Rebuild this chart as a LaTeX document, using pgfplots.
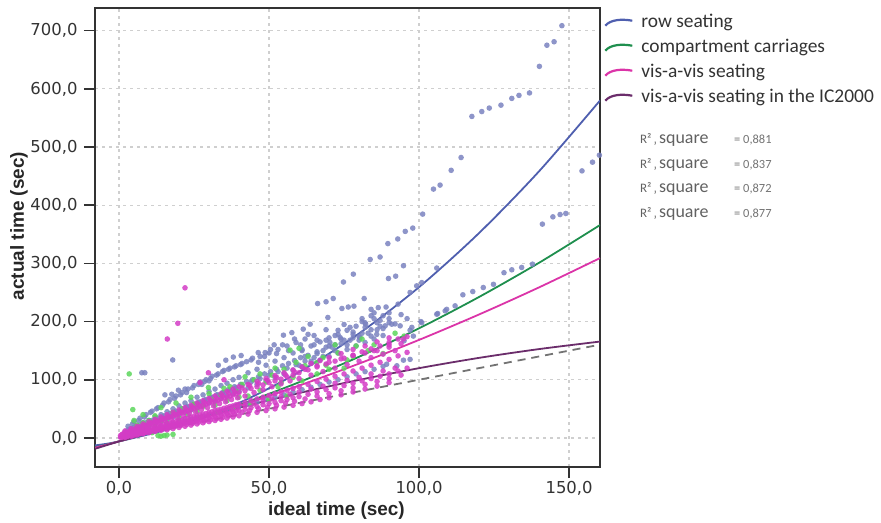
\documentclass[border=0pt]{standalone}
\usepackage{fontspec}
\setmainfont{Carlito}
\newfontfamily\dejavu{DejaVu Sans}
\newfontfamily\libsans{Liberation Sans}
\usepackage{pgfplots}
\pgfplotsset{compat=1.18}
\definecolor{bluept}{HTML}{7A82C0}
\definecolor{blueln}{HTML}{4F5FAF}
\definecolor{greenpt}{HTML}{5CD65C}
\definecolor{greenln}{HTML}{1F8F4E}
\definecolor{pinkpt}{HTML}{D43CC6}
\definecolor{pinkln}{HTML}{DB34A8}
\definecolor{purpln}{HTML}{6B2D6B}
\definecolor{gridc}{HTML}{CFCFCF}
\definecolor{txt}{HTML}{333333}
\begin{document}
\begin{tikzpicture}
\path[use as bounding box] (0,0) rectangle (881bp,523bp);
\begin{axis}[
  at={(95bp,56bp)}, anchor=south west,
  scale only axis, width=505bp, height=459bp,
  xmin=-8, xmax=160.3, ymin=-50, ymax=739,
  xtick={0,50,100,150}, ytick={0,100,200,300,400,500,600,700},
  xtick pos=bottom, ytick pos=left, tick align=outside,
  major tick length=11bp,
  tick style={line width=1.6bp, color=black!80},
  axis line style={line width=1.8bp, color=black!80},
  grid=major,
  major grid style={dash pattern=on 3bp off 4bp, line width=1.2bp, color=gridc},
  /pgf/number format/fixed, /pgf/number format/fixed zerofill,
  /pgf/number format/precision=1, /pgf/number format/use comma,
  /pgf/number format/assume math mode=true,
  ticklabel style={font=\dejavu\fontsize{16.5}{16.5}\selectfont, text=txt},
  yticklabel style={xshift=-3bp},
  xlabel={ideal time (sec)}, ylabel={actual time (sec)},
  label style={font=\libsans\bfseries\fontsize{19}{19}\selectfont, text=black!85},
  xlabel style={at={(axis description cs:0.478,-0.1046)}, anchor=base},
  ylabel style={at={(axis description cs:-0.1505,0.525)}, anchor=center},
  legend style={at={(axis description cs:1,1)}, anchor=north west, xshift=4bp, yshift=-5bp,
    draw=none, fill=none, inner sep=0pt, row sep=6bp, column sep=8bp,
    font=\fontsize{19.5}{19.5}\selectfont, text=txt,
    nodes={inner sep=0pt, text height=14bp, text depth=5bp}},
  legend cell align=left,
  legend image code/.code={\draw[#1, line width=2.2bp] (0bp,-3bp) .. controls (5bp,3bp) and (16bp,4bp) .. (27bp,2bp);},
  scatterstyle/.style={only marks, mark=*, mark size=2.8bp, color=#1, mark options={fill opacity=0.85, draw opacity=0}, forget plot},
]
% row seating points
\addplot[scatterstyle=bluept] coordinates {
(2,3) (2,5) (2,10) (4,6) (4,9) (4,16) (6,8) (6,12) (6,20) (8,11) (8,16) (8,26) (10,13) (10,20) (10,30)
(12,16) (12,24) (12,36) (14,19) (14,28) (14,40) (16,21) (16,32) (16,45) (18,24) (18,36) (18,50)
(20,27) (20,40) (20,55) (22,29) (22,44) (22,60) (24,32) (24,48) (24,64) (26,35) (26,52) (26,70)
(28,37) (28,56) (28,74) (30,40) (30,60) (30,80) (32,43) (32,64) (32,84) (34,45) (34,68) (34,90)
(36,48) (36,72) (36,94) (38,51) (38,76) (38,100) (40,54) (40,80) (40,104) (43,58) (43,86) (43,112)
(46,62) (46,92) (46,118) (49,66) (49,98) (49,125) (52,70) (52,104) (52,132) (55,74) (55,110) (55,138)
(58,79) (58,116) (58,146) (61,83) (61,122) (61,152) (64,87) (64,128) (64,158) (67,92) (67,134) (67,165)
(70,96) (70,140) (70,172) (73,100) (73,146) (73,178) (76,105) (76,152) (76,185) (79,110) (79,158) (79,192)
(82,114) (82,164) (82,198) (85,118) (85,170) (85,205) (88,123) (88,176) (88,210)
(3,20) (5,28) (7,34) (9,40) (11,46) (13,52) (15,60) (17,66) (19,72) (21,78) (23,84) (25,90) (27,96)
(29,100) (31,106) (33,110) (35,116) (37,120) (39,124) (41,128) (44,134) (47,140) (50,146) (53,152)
(56,158) (59,164) (62,170) (65,176)
(3,14) (5,18) (7,22) (9,26) (11,30) (13,34) (15,38) (17,42) (19,46) (21,50) (23,54) (25,58) (27,62)
(29,66) (31,70) (33,74) (35,78) (37,82) (39,86) (41,90) (44,96) (47,102) (50,108) (53,114) (56,120)
(59,126) (62,132) (65,138) (68,150) (71,156) (74,162) (77,168) (80,174) (83,180) (86,186)
(4.5,12) (4.5,24) (6.5,18) (6.5,30) (8.5,22) (8.5,36) (10.5,27) (10.5,44) (12.5,30) (12.5,50)
(14.5,35) (14.5,56) (16.5,38) (16.5,62) (18.5,44) (18.5,68) (20.5,47) (20.5,74) (22.5,53) (22.5,78)
(24.5,56) (24.5,86) (26.5,61) (26.5,92) (28.5,65) (28.5,97) (30.5,70) (30.5,102) (32.5,74) (32.5,108)
(34.5,78) (34.5,114) (36.5,83) (36.5,118) (38.5,88) (38.5,122) (40.5,92) (40.5,126) (42.5,97) (42.5,131)
(44.5,100) (44.5,137) (46.5,105) (46.5,130) (48.5,110) (48.5,140) (50.5,114) (50.5,152) (52.5,118) (52.5,145)
(54.5,124) (54.5,160) (56.5,128) (56.5,150) (58.5,133) (58.5,170) (60.5,138) (60.5,160) (63,142) (63,178)
(66,148) (66,168) (69,156) (69,186) (72,160) (72,176) (75,168) (75,195) (78,172) (78,182) (81,180) (81,200)
(84,186) (84,210) (87,192) (87,202) (90,198) (90,215)
(60,125) (62,140) (64,132) (66,145) (68,140) (70,158) (72,150) (74,170) (76,160) (78,178) (80,168)
(82,190) (84,175) (86,198) (88,188) (90,205) (92,196) (94,212) (96,205) (61,150) (65,160) (69,168)
(73,185) (77,190) (81,205) (85,215) (89,225) (93,230)
(7.6,112) (8.6,112) (17.9,134) (15.3,74) (17.6,75) (19.8,82) (22,84) (27.6,92) (30,98) (33.1,125)
(35.6,133.6) (38.1,139) (40.7,141.6) (46.4,146.7) (48.7,146.7) (51.7,160) (54.8,176.6) (57.6,181)
(61.4,187) (63.7,195.5) (66.2,231) (69,234) (71.4,239.6) (69.6,207) (70.3,164) (73.7,172.5)
(74.3,222.5) (76.4,225) (78.3,226.5) (74.8,268) (78.1,281.5) (80.3,172.5) (81.7,239.6) (82.2,195.5)
(83.7,306.7) (84,221) (85.9,178) (86.4,224) (87,311) (88.7,192.6) (89.6,334) (89.8,274) (90.9,195.5)
(92.2,278) (92.9,342) (93.7,192.6) (94.8,296) (95.4,355) (97.9,360.7) (97,250) (99.2,261.4)
(100.9,267) (101.2,384.7) (104.8,427.7) (107,434.6) (110.7,460) (114,482) (117.6,552.6) (120.9,561)
(123.4,567) (127.3,572) (130.9,583.6) (133.3,588.8) (136.8,593) (140.1,638.7) (142.6,675) (145,681)
(147.6,708.6) (105.9,292) (100.6,200) (97.6,190) (97,185) (98.1,175) (95,167) (97,135) (94.8,133.6)
(92.6,124) (89.2,126.7) (100.9,198) (105.9,212.6) (106.2,213.8) (108.7,218.4) (109.2,221) (112,227)
(114.6,246) (117.9,251.6) (121.4,258.5) (124.8,264) (128.3,284) (130.9,289) (134.2,293) (137.8,298.7)
(141.1,367.5) (144.6,380) (147,384) (148.9,385.8) (154.3,459) (157.8,474) (160.1,486)
};
% compartment carriages points
\addplot[scatterstyle=greenpt] coordinates {
(2,2) (3,5) (3.4,110) (4,9) (4.6,48.7) (5,14) (6,22) (7,10) (8,26) (9,16) (10,30) (11,9) (12,20)
(13,4) (14,3) (15,4) (16,5) (18,6) (12,38) (14,30) (16,26) (18,44) (20,34) (21,50) (23,40) (25,58)
(26,46) (28,54) (29.8,86.6) (31,66) (32,56) (34,74) (36,64) (37,88) (39,80) (41,92) (43,72) (45,100)
(47,82) (49,96) (51,108) (53,88) (55,118) (57,151) (60,154) (58,104) (62,124) (65.9,129.5) (68,138)
(70,118) (73,146) (76,134) (79,158) (83,150)
(5,30) (8,40) (10,22) (14,52) (17,18) (19,60) (22,28) (24,70) (27,35) (30,76) (33,44) (35,85) (38,50)
(40,70) (42,105) (44,58) (47,110) (50,66) (52,120) (54,95) (56,72) (59,130) (61,98) (63,140) (66,110)
(69,125) (72,160) (75,120) (78,140) (81,170) (85,160) (88,145) (92,180) (95,175)
};
% vis-a-vis seating points
\addplot[scatterstyle=pinkpt] coordinates {
(1,1) (1,3) (1,6) (2,2) (2,4) (2,9) (3,3) (3,5) (3,10) (4,5) (4,7) (4,13) (5,5) (5,8) (5,15)
(6,7) (6,10) (6,16) (7,8) (7,11) (7,19) (8,9) (8,13) (8,20) (9,10) (9,14) (9,22) (10,12) (10,15) (10,24)
(11,12) (11,17) (11,26) (12,14) (12,18) (12,28) (13,15) (13,20) (13,29) (14,16) (14,21) (14,31)
(15,17) (15,23) (15,33) (16,18) (16,24) (16,35) (17,20) (17,25) (17,36) (18,21) (18,27) (18,38)
(19,22) (19,28) (19,40) (20,23) (20,30) (20,42) (21,24) (21,31) (21,44) (22,26) (22,33) (22,45)
(23,27) (23,34) (23,47) (24,28) (24,35) (24,49) (25,29) (25,37) (25,51) (26,30) (26,38) (26,52)
(27,31) (27,40) (27,54) (28,33) (28,41) (28,56) (29,34) (29,42) (29,58) (30,35) (30,44) (30,60)
(31,36) (31,45) (31,62) (32,37) (32,47) (32,63) (33,39) (33,48) (33,65) (34,40) (34,49) (34,67)
(35,41) (35,51) (35,69) (36,42) (36,52) (36,70) (37,43) (37,54) (37,72) (38,45) (38,55) (38,74)
(39,46) (39,57) (39,76) (40,47) (40,58) (40,78) (42,49) (42,61) (42,81) (44,52) (44,64) (44,85)
(46,54) (46,67) (46,88) (48,57) (48,70) (48,91) (50,59) (50,73) (50,95) (52,61) (52,76) (52,98)
(54,64) (54,79) (54,101) (56,66) (56,82) (56,105) (58,69) (58,85) (58,108) (60,71) (60,88) (60,112)
(63,75) (63,92) (63,117) (66,79) (66,97) (66,122) (69,83) (69,101) (69,127) (72,86) (72,106) (72,132)
(75,90) (75,110) (75,137) (78,94) (78,115) (78,142) (81,98) (81,120) (81,148) (84,102) (84,125) (84,153)
(87,106) (87,130) (87,158) (90,110) (90,135) (90,164) (93,115) (93,141) (93,170) (96,120) (96,147) (96,174)
(2,1) (4,3) (6,5) (8,7) (10,9) (12,11) (14,13) (16,14) (18,16) (20,18) (22,20) (24,22) (26,24) (28,26)
(30,28) (32,30) (34,32) (36,34) (38,36) (40,38) (43,41) (46,44) (49,47) (52,50) (55,53) (58,56) (61,59)
(64,62) (67,66) (70,69) (74,74) (78,79) (82,84) (86,89) (90,95)
(2,12) (4,16) (6,20) (8,24) (10,28) (12,32) (14,36) (16,40) (18,44) (20,48) (22,52) (24,56) (26,60)
(28,64) (30,68) (32,72) (34,76) (36,80) (38,84) (40,88) (43,92) (46,97) (49,102) (52,107) (55,112)
(58,117) (61,122) (64,128) (67,133) (70,138) (74,145) (78,152) (82,158) (86,165) (90,172)
(0.5,1) (0.5,4) (1.5,3) (1.5,7) (2.5,2) (2.5,8) (3.5,5) (3.5,11) (4.5,4) (4.5,12) (5.5,8) (5.5,14)
(6.5,7) (6.5,17) (7.5,10) (7.5,15) (8.5,9) (8.5,21) (9.5,13) (9.5,19) (10.5,11) (10.5,25) (11.5,15) (11.5,22)
(12.5,13) (12.5,27) (13.5,18) (13.5,25) (14.5,15) (14.5,32) (15.5,20) (15.5,29) (16.5,17) (16.5,36)
(17.5,22) (17.5,32) (18.5,19) (18.5,41) (19.5,25) (19.5,35) (20.5,21) (20.5,45) (21.5,28) (21.5,38)
(22.5,23) (22.5,48) (23.5,30) (23.5,42) (24.5,25) (24.5,53) (25.5,33) (25.5,45) (26.5,27) (26.5,57)
(27.5,36) (27.5,49) (28.5,29) (28.5,61) (29.5,38) (29.5,52) (30.5,31) (30.5,65) (31.5,41) (31.5,55)
(32.5,33) (32.5,68) (33.5,44) (33.5,59) (34.5,35) (34.5,73) (35.5,46) (35.5,62) (36.5,38) (36.5,77)
(37.5,49) (37.5,66) (38.5,40) (38.5,80) (39.5,52) (39.5,69) (41,44) (41,86) (42,55) (42,72) (43.5,47) (43.5,90)
(45,59) (45,78) (46.5,50) (46.5,94) (48,63) (48,83) (49.5,53) (49.5,99) (51,67) (51,88) (52.5,56) (52.5,104)
(54,71) (54,93) (55.5,60) (55.5,108) (57,75) (57,98) (58.5,63) (58.5,113) (60,79) (60,102) (62,67) (62,118)
(64,84) (64,108) (66,72) (66,124) (68,89) (68,114) (70,76) (70,130) (72,94) (72,120) (74,81) (74,136)
(76,99) (76,126) (78,86) (78,142) (80,104) (80,132) (82,92) (82,146) (84,110) (84,138) (86,97) (86,150)
(88,115) (88,144) (90,102) (90,156) (92,120) (92,150) (94,108) (94,162)
(16.1,170) (19.6,197) (22,258) (29.8,112) (27,95) (35,100) (94.8,170) (90,160) (85,150)
};
% reference line y = x
\addplot[color=black!55, line width=1.8bp, dash pattern=on 8bp off 6bp, forget plot] coordinates {(0,0) (160.3,160.3)};
% fitted curves
\addplot[color=blueln, line width=1.8bp, smooth] coordinates {
(-8,-12.8) (0,-6) (20,20.4) (40,60.1) (60,113.2) (80,179.5) (100,259.2) (120,352.2) (140,458.4) (160.3,580)};
\addlegendentry{row seating}
\addplot[color=greenln, line width=1.8bp, smooth] coordinates {
(-8,-16.2) (0,-6) (20,22.9) (40,56.8) (60,95.7) (80,139.5) (100,188.4) (120,242.3) (140,301.1) (160.3,365.9)};
\addlegendentry{compartment carriages}
\addplot[color=pinkln, line width=1.8bp, smooth] coordinates {
(-8,-16.8) (0,-6) (20,23.1) (40,55.1) (60,89.9) (80,127.7) (100,168.5) (120,212.2) (140,258.8) (160.3,309.1)};
\addlegendentry{vis-a-vis seating}
\addplot[color=purpln, line width=1.8bp, smooth] coordinates {
(-8,-18.8) (0,-6) (20,24.2) (40,51.9) (60,77.1) (80,99.7) (100,119.9) (120,137.6) (140,152.7) (160.3,165.6)};
\addlegendentry{vis-a-vis seating in the IC2000}
\end{axis}
\foreach \yy/\rr in {143/0{,}881, 168/0{,}837, 192/0{,}872, 217/0{,}877} {
  \node[anchor=base west, inner sep=0pt, text=black!62] at (640bp,{(523-\yy)*1bp}) {\fontsize{13}{13}\selectfont R²\,‚\,\fontsize{18}{18}\selectfont square};
  \node[anchor=base west, inner sep=0pt, text=black!55] at (734bp,{(523-\yy)*1bp}) {\fontsize{12.5}{12.5}\selectfont = \rr};
}
\end{tikzpicture}
\end{document}
